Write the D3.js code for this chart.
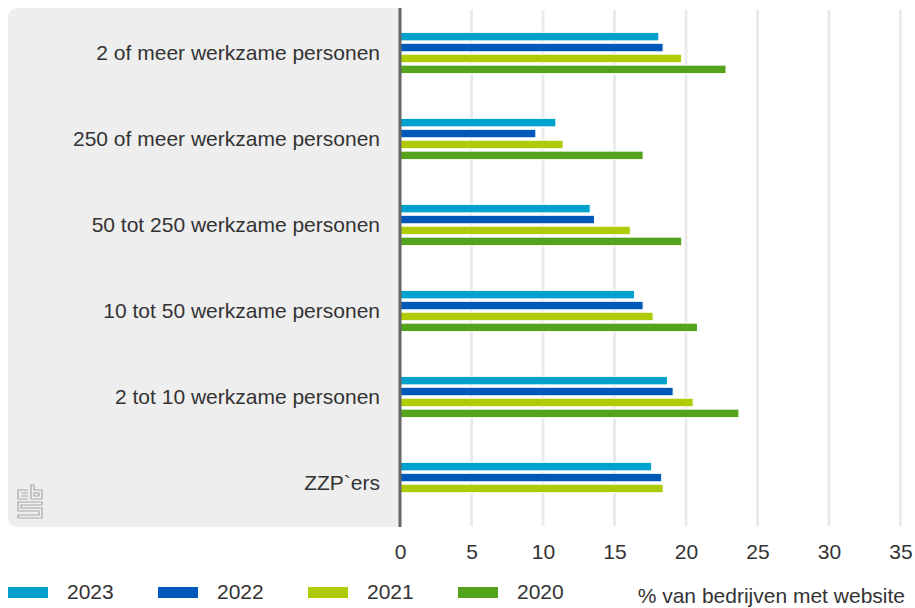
<!DOCTYPE html>
<meta charset="utf-8">
<style>
body { margin: 0; background: #fff; }
text { font-family: "Liberation Sans", Arial, sans-serif; fill: #333; }
</style>
<body>
<div id="chart"></div>
<script src="https://cdn.jsdelivr.net/npm/d3@7"></script>
<script>
var categories = ["2 of meer werkzame personen", "250 of meer werkzame personen", "50 tot 250 werkzame personen",
                  "10 tot 50 werkzame personen", "2 tot 10 werkzame personen", "ZZP`ers"];
var years = ["2023", "2022", "2021", "2020"];
var colors = ["#00a1cd", "#0058b8", "#afcb05", "#53a31d"];
var v2023 = [18.1, 10.9, 13.3, 16.4, 18.7, 17.6];
var v2022 = [18.4, 9.5, 13.6, 17.0, 19.1, 18.3];
var v2021 = [19.7, 11.4, 16.1, 17.7, 20.5, 18.4];
var v2020 = [22.8, 17.0, 19.7, 20.8, 23.7, null];
var ticks = [0, 5, 10, 15, 20, 25, 30, 35];
var axisTitle = "% van bedrijven met website";

var series = [v2023, v2022, v2021, v2020];
var width = 915, height = 608;
var fs = "21px";
var svg = d3.select("#chart").append("svg").attr("width", width).attr("height", height);

var x = d3.scaleLinear().domain([0, 35]).range([400, 900.5]);
var y = d3.scaleBand().domain(categories).range([10, 526]).paddingInner(0.5).paddingOuter(0.25);
var y1 = d3.scaleBand().domain(years).range([0, y.bandwidth()]).paddingInner(0.22).paddingOuter(0.08);

// grey panel behind labels
svg.append("rect").attr("x", 8).attr("y", 8).attr("width", 400).attr("height", 519)
  .attr("rx", 9).attr("fill", "#eeeeee");
svg.append("rect").attr("x", 400).attr("y", 0).attr("width", 20).attr("height", 540).attr("fill", "#fff");

// gridlines
svg.append("g").selectAll("line").data(ticks.slice(1)).enter().append("line")
  .attr("x1", function(d) { return x(d); }).attr("x2", function(d) { return x(d); })
  .attr("y1", 10).attr("y2", 526)
  .attr("stroke", "#ebebeb").attr("stroke-width", 3);

// bars
var groups = svg.append("g").selectAll("g").data(categories).enter().append("g")
  .attr("transform", function(d) { return "translate(0," + y(d) + ")"; });
groups.selectAll("rect")
  .data(function(d, i) { return years.map(function(yr, j) { return {year: yr, value: series[j][i], color: colors[j]}; }).filter(function(e) { return e.value != null; }); })
  .enter().append("rect")
  .attr("x", x(0))
  .attr("y", function(d) { return y1(d.year); })
  .attr("width", function(d) { return x(d.value) - x(0); })
  .attr("height", y1.bandwidth())
  .attr("fill", function(d) { return d.color; })
  .attr("stroke", "#fff").attr("stroke-width", 1);

// category labels
svg.append("g").selectAll("text").data(categories).enter().append("text")
  .attr("x", 380).attr("y", function(d) { return y(d) + y.bandwidth() / 2; })
  .attr("dy", "0.35em").attr("text-anchor", "end").style("font-size", fs)
  .text(function(d) { return d; });

// axis line
svg.append("line").attr("x1", 400).attr("x2", 400).attr("y1", 8).attr("y2", 527)
  .attr("stroke", "#666").attr("stroke-width", 3);

// x axis tick labels
var xAxis = svg.append("g").attr("transform", "translate(0,552)")
  .call(d3.axisBottom(x).tickValues(ticks).tickSize(0).tickPadding(0));
xAxis.select(".domain").remove();
xAxis.selectAll("text").attr("dy", "0.35em").style("font-size", fs).attr("fill", "#333")
  .style("font-family", "Liberation Sans, Arial, sans-serif");

// axis title
svg.append("text").attr("x", 905).attr("y", 596).attr("dy", "0.35em").attr("text-anchor", "end")
  .style("font-size", fs).text(axisTitle);

// legend
var legend = svg.append("g").selectAll("g").data(years).enter().append("g")
  .attr("transform", function(d, i) { return "translate(" + (8 + i * 150) + ",592)"; });
legend.append("rect").attr("x", 0).attr("y", -5).attr("width", 40).attr("height", 11)
  .attr("fill", function(d, i) { return colors[i]; });
legend.append("text").attr("x", 59).attr("dy", "0.35em").style("font-size", fs)
  .text(function(d) { return d; });

// cbs logo
var logo = svg.append("g").attr("transform", "translate(17,485)")
  .attr("fill", "none").attr("stroke", "#a8a8a8").attr("stroke-width", 1.2);
logo.append("path").attr("d", "M11,5 H1 V14 H11 M4,8 H11 M4,11 H11");
logo.append("path").attr("d", "M14,0 V14 H25 V5 H17 V0 Z M17,8 H22 V11 H17 Z");
logo.append("path").attr("d", "M25,17 H1 V26 H22 V30 H1 V33 H25 V23 H4 V20 H25 Z");
</script>
</body>
